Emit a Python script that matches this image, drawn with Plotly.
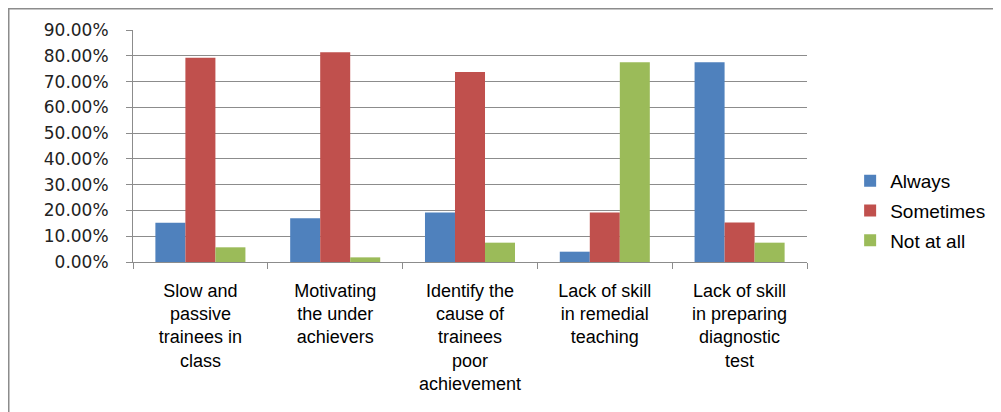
import plotly.graph_objects as go

categories = [
    "Slow and<br>passive<br>trainees in<br>class",
    "Motivating<br>the under<br>achievers",
    "Identify the<br>cause of<br>trainees<br>poor<br>achievement",
    "Lack of skill<br>in remedial<br>teaching",
    "Lack of skill<br>in preparing<br>diagnostic<br>test",
]
always = [0.152, 0.170, 0.192, 0.040, 0.775]
sometimes = [0.792, 0.814, 0.737, 0.192, 0.153]
not_at_all = [0.057, 0.018, 0.075, 0.775, 0.075]

series = [
    ("Always", always, "#4F81BD"),
    ("Sometimes", sometimes, "#C0504D"),
    ("Not at all", not_at_all, "#9BBB59"),
]

fig = go.Figure()
for i, (name, vals, color) in enumerate(series):
    fig.add_trace(go.Bar(
        x=categories, y=vals, name=name, legendgroup=name,
        marker=dict(color=color, line=dict(width=0)),
    ))

grid = "#8c8c8c"
# page body has an 8px margin, so the figure is offset by (8, 8)
fig.update_layout(
    width=1001, height=412,
    margin=dict(l=125, r=202, t=22, b=158, autoexpand=False),
    paper_bgcolor="white", plot_bgcolor="white",
    barmode="group", bargap=0.332, bargroupgap=0,
    font=dict(family="Liberation Sans", color="#000000"),
    legend=dict(
        x=1.064, xanchor="left", y=0.22, yanchor="middle",
        font=dict(family="Liberation Sans", size=19, color="#000000"),
        traceorder="grouped", tracegroupgap=2,
        bgcolor="rgba(0,0,0,0)",
    ),
    shapes=[dict(
        type="rect", xref="paper", yref="paper",
        x0=-0.1847, x1=2, y0=-2, y1=1.0927,
        line=dict(color="#8c8c8c", width=2), fillcolor="rgba(0,0,0,0)",
        layer="below",
    )],
)
fig.update_yaxes(
    range=[0, 0.9], dtick=0.1, tickformat=".2%",
    showgrid=True, gridcolor=grid, gridwidth=1,
    showline=True, linecolor=grid, linewidth=1,
    ticks="outside", ticklen=6, tickcolor=grid,
    tickfont=dict(family="DejaVu Sans", size=17, color="#222222"),
    ticklabelstandoff=14, zeroline=False,
)
fig.update_xaxes(
    showline=True, linecolor=grid, linewidth=1,
    ticks="outside", ticklen=6, tickcolor=grid, tickson="boundaries",
    tickfont=dict(family="Liberation Sans", size=18, color="#000000"),
    ticklabelstandoff=12, tickangle=0,
)

fig.write_html("out.html")
